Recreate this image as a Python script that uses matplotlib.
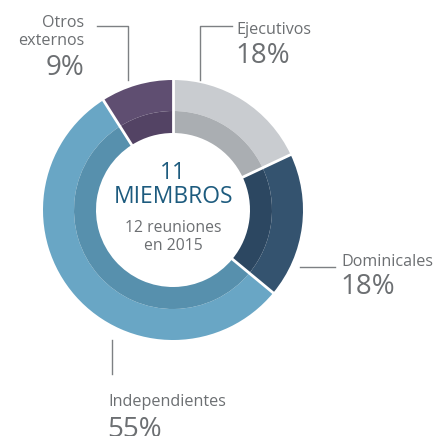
import numpy as np
import matplotlib
matplotlib.use("Agg")
import matplotlib.pyplot as plt

plt.rcParams['font.family'] = ['Open Sans', 'DejaVu Sans']

# Board composition (share of members, %)
categories = ["Ejecutivos", "Dominicales", "Independientes", "Otros\nexternos"]
shares = [18, 18, 55, 9]
outer_colors = ["#c9ccd0", "#34536f", "#69a6c5", "#5f4e71"]
inner_colors = ["#aaaeb2", "#2c4761", "#5790ad", "#534364"]

total_members = "11"
members_word = "MIEMBROS"
meetings_text = "12 reuniones\nen 2015"

W = H = 436
fig = plt.figure(figsize=(W / 100, H / 100), dpi=100)
ax = fig.add_axes([0, 0, 1, 1])

cx, cy = 173, H - 210
r_out, r_mid, r_in = 130, 99, 77

ax.pie(shares, radius=r_out, center=(cx, cy), startangle=90, counterclock=False,
       colors=outer_colors, wedgeprops=dict(width=r_out - r_mid, linewidth=0),
       frame=True)
ax.pie(shares, radius=r_mid, center=(cx, cy), startangle=90, counterclock=False,
       colors=inner_colors, wedgeprops=dict(width=r_mid - r_in, linewidth=0),
       frame=True)
ax.set_xlim(0, W)
ax.set_ylim(0, H)
ax.set_aspect('equal')
ax.axis('off')

# white separators between segments
cum = np.cumsum([0] + shares) / sum(shares)
for f in cum[:-1]:
    ang = np.deg2rad(90 - 360 * f)
    ax.plot([cx + (r_in - 1) * np.cos(ang), cx + (r_out + 1) * np.cos(ang)],
            [cy + (r_in - 1) * np.sin(ang), cy + (r_out + 1) * np.sin(ang)],
            color="white", lw=2.0, solid_capstyle="butt", zorder=5)

# centre text
dark_blue = "#1d5b7e"
grey_txt = "#6c6f72"
ax.text(cx, H - 173, total_members, ha="center", va="center", fontsize=16.5, color=dark_blue)
ax.text(cx, H - 197, members_word, ha="center", va="center", fontsize=16.5, color=dark_blue)
ax.text(cx, H - 237, meetings_text, ha="center", va="center", fontsize=11.3,
        color=grey_txt, linespacing=1.1)

line_c = "#7d8083"
lw = 1.0
lab_fs = 11.6
pct_fs = 20

# Otros externos (top left)
ax.plot([97, 128, 128], [H - 26, H - 26, H - 80], color=line_c, lw=lw)
ax.text(84, H - 32, categories[3], ha="right", va="center", fontsize=lab_fs,
        color=grey_txt, linespacing=1.15)
ax.text(84, H - 68, f"{shares[3]}%", ha="right", va="center", fontsize=pct_fs, color=grey_txt)

# Ejecutivos (top right)
ax.plot([232, 200, 200], [H - 26, H - 26, H - 80], color=line_c, lw=lw)
ax.text(236, H - 30, categories[0], ha="left", va="center", fontsize=lab_fs, color=grey_txt)
ax.text(235, H - 56, f"{shares[0]}%", ha="left", va="center", fontsize=pct_fs, color=grey_txt)

# Dominicales (right)
ax.plot([300, 335], [H - 267, H - 267], color=line_c, lw=lw)
ax.text(341, H - 262, categories[1], ha="left", va="center", fontsize=lab_fs, color=grey_txt)
ax.text(340, H - 287, f"{shares[1]}%", ha="left", va="center", fontsize=pct_fs, color=grey_txt)

# Independientes (bottom)
ax.plot([112, 112], [H - 340, H - 374], color=line_c, lw=lw)
ax.text(108, H - 402, categories[2], ha="left", va="center", fontsize=lab_fs, color=grey_txt)
ax.text(107, H - 430, f"{shares[2]}%", ha="left", va="center", fontsize=pct_fs, color=grey_txt)

fig.savefig("out.png", dpi=100, facecolor="white")
